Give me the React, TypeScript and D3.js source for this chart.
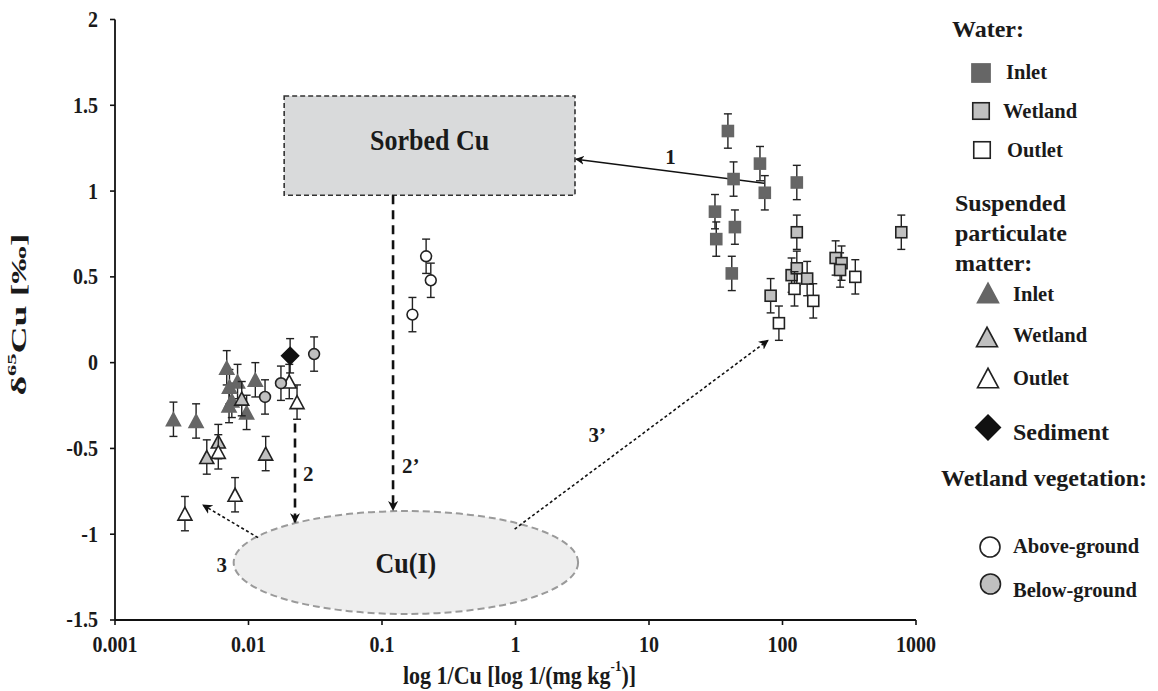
import React from "react";
import * as d3 from "d3";

// ---------- data ----------
const xTickValues = [0.001, 0.01, 0.1, 1, 10, 100, 1000];
const xTickLabels = ["0.001", "0.01", "0.1", "1", "10", "100", "1000"];
const yTickValues = [2, 1.5, 1, 0.5, 0, -0.5, -1, -1.5];
const yTickLabels = ["2", "1.5", "1", "0.5", "0", "-0.5", "-1", "-1.5"];

const waterInletX = [39, 43, 67.8, 73.7, 128, 31.2, 31.9, 44, 41.7];
const waterInletY = [1.35, 1.07, 1.16, 0.99, 1.05, 0.88, 0.72, 0.79, 0.52];

const waterWetlandX = [128, 81.5, 250, 277, 270, 117, 128, 153, 776];
const waterWetlandY = [0.76, 0.39, 0.61, 0.58, 0.54, 0.51, 0.55, 0.49, 0.76];

const waterOutletX = [123, 170, 94, 351];
const waterOutletY = [0.43, 0.36, 0.23, 0.5];

const spmInletX = [0.00274, 0.00405, 0.00687, 0.00828, 0.01125, 0.0072, 0.0075, 0.00715, 0.00968];
const spmInletY = [-0.33, -0.34, -0.03, -0.11, -0.1, -0.14, -0.22, -0.25, -0.29];

const spmWetlandX = [0.0089, 0.00594, 0.00487, 0.01345];
const spmWetlandY = [-0.21, -0.46, -0.55, -0.53];

const spmOutletX = [0.0202, 0.0231, 0.00594, 0.00793, 0.00334];
const spmOutletY = [-0.11, -0.23, -0.52, -0.77, -0.88];

const sedimentX = [0.0205];
const sedimentY = [0.04];

const aboveGroundX = [0.214, 0.232, 0.169];
const aboveGroundY = [0.62, 0.48, 0.28];

const belowGroundX = [0.031, 0.0175, 0.0133];
const belowGroundY = [0.05, -0.12, -0.2];

const ERR = 0.1;

// annotation geometry in data units
const sorbedBox = { x0: 0.0185, x1: 2.79, yTop: 1.554, yBottom: 0.976 };
const cuEllipse = { cx: 0.151, cy: -1.165, rxDecades: 1.29, ry: 0.3 };

// ---------- layout ----------
const W = 1158;
const H = 691;
const FONT = "'Liberation Serif', 'Times New Roman', serif";

const x = d3.scaleLog().domain([0.001, 1000]).range([115, 916]);
const y = d3.scaleLinear().domain([-1.5, 2]).range([620, 19.5]);

const INLET = "#666666";
const WETLAND = "#c0c0c0";
const EDGE = "#222222";

type Shape = "square" | "triangle" | "circle" | "diamond";

function Marker({ shape, cx, cy, fill, stroke, s = 1 }: { shape: Shape; cx: number; cy: number; fill: string; stroke: string; s?: number }) {
  const sw = 1.6;
  if (shape === "square") {
    const h = 5.5 * s;
    return <rect x={cx - h} y={cy - h} width={2 * h} height={2 * h} fill={fill} stroke={stroke} strokeWidth={sw} />;
  }
  if (shape === "triangle") {
    const hw = 7 * s;
    const hh = 6.5 * s;
    return <path d={`M${cx},${cy - hh}L${cx + hw},${cy + hh}L${cx - hw},${cy + hh}Z`} fill={fill} stroke={stroke} strokeWidth={sw} strokeLinejoin="miter" />;
  }
  if (shape === "circle") {
    return <circle cx={cx} cy={cy} r={5.4 * s} fill={fill} stroke={stroke} strokeWidth={sw} />;
  }
  const hw = 8.5 * s;
  return <path d={`M${cx},${cy - hw}L${cx + hw},${cy}L${cx},${cy + hw}L${cx - hw},${cy}Z`} fill={fill} stroke={stroke} strokeWidth={sw} />;
}

function Series({ xs, ys, shape, fill, stroke }: { xs: number[]; ys: number[]; shape: Shape; fill: string; stroke: string }) {
  return (
    <g>
      {xs.map((xv, i) => {
        const px = x(xv);
        const yTop = y(ys[i] + ERR);
        const yBot = y(ys[i] - ERR);
        return (
          <g key={"e" + i} stroke="#222" strokeWidth={1.4}>
            <line x1={px} x2={px} y1={yTop} y2={yBot} />
            <line x1={px - 4} x2={px + 4} y1={yTop} y2={yTop} />
            <line x1={px - 4} x2={px + 4} y1={yBot} y2={yBot} />
          </g>
        );
      })}
      {xs.map((xv, i) => (
        <Marker key={"m" + i} shape={shape} cx={x(xv)} cy={y(ys[i])} fill={fill} stroke={stroke} />
      ))}
    </g>
  );
}

const SY = 1.15;

export default function App() {
  const decade = x(10) - x(1);
  const ex = x(cuEllipse.cx);
  const ey = y(cuEllipse.cy);
  const erx = decade * cuEllipse.rxDecades;
  const ery = y(0) - y(cuEllipse.ry);

  const bx0 = x(sorbedBox.x0);
  const bx1 = x(sorbedBox.x1);
  const by0 = y(sorbedBox.yTop);
  const by1 = y(sorbedBox.yBottom);

  const txt = { fontFamily: FONT, fontWeight: 700, fill: "#1a1a1a" } as const;

  const legendItem = (label: string, tx: number, ty: number, size = 20.5) => (
    <text x={tx} y={ty} fontSize={size} {...txt}>{label}</text>
  );

  return (
    <svg width={W} height={H} style={{ position: "absolute", left: 0, top: 0, background: "#fff" }}>
      <defs>
        <marker id="arrSolid" viewBox="0 0 10 10" refX="9" refY="5" markerWidth="9" markerHeight="9" orient="auto-start-reverse" markerUnits="userSpaceOnUse">
          <path d="M0,0L10,5L0,10L3,5Z" fill="#111" />
        </marker>
        <marker id="arrDash" viewBox="0 0 10 10" refX="9" refY="5" markerWidth="10" markerHeight="10" orient="auto" markerUnits="userSpaceOnUse">
          <path d="M0,0L10,5L0,10L3,5Z" fill="#111" />
        </marker>
      </defs>

      {/* annotation shapes */}
      <rect x={bx0} y={by0} width={bx1 - bx0} height={by1 - by0} fill="#d9dadb" stroke="#333" strokeWidth={1.6} strokeDasharray="5 3" />
      <text transform={`translate(${(bx0 + bx1) / 2},${(by0 + by1) / 2 - 6}) scale(1,${SY})`} textAnchor="middle" dominantBaseline="central" fontSize={26} {...txt}>Sorbed Cu</text>

      <ellipse cx={ex} cy={ey} rx={erx} ry={ery} fill="#eeeeee" stroke="#9a9a9a" strokeWidth={2} strokeDasharray="7 4" />
      <text transform={`translate(${ex},${ey}) scale(1,${SY})`} textAnchor="middle" dominantBaseline="central" fontSize={26} {...txt}>Cu(I)</text>

      {/* arrow 1 */}
      <line x1={x(73)} y1={y(1.046)} x2={bx1 + 1} y2={y(1.186)} stroke="#111" strokeWidth={1.5} markerEnd="url(#arrSolid)" />
      <text x={x(14.5)} y={y(1.2)} textAnchor="middle" dominantBaseline="central" fontSize={21} {...txt}>1</text>

      {/* arrow 2' */}
      <line x1={x(0.121)} y1={by1} x2={x(0.121)} y2={ey - ery - 1} stroke="#111" strokeWidth={2.6} strokeDasharray="9 6" markerEnd="url(#arrDash)" />
      <text x={x(0.121) + 9} y={y(-0.6)} dominantBaseline="central" fontSize={21} {...txt}>2’</text>

      {/* arrow 2 */}
      <line x1={x(0.0223)} y1={y(-0.354)} x2={x(0.0223)} y2={y(-0.93)} stroke="#111" strokeWidth={2.6} strokeDasharray="9 6" markerEnd="url(#arrDash)" />
      <text x={x(0.0223) + 8} y={y(-0.65)} dominantBaseline="central" fontSize={21} {...txt}>2</text>

      {/* arrow 3 */}
      <line x1={x(0.0118)} y1={y(-1.02)} x2={x(0.00456)} y2={y(-0.83)} stroke="#111" strokeWidth={1.6} strokeDasharray="3 2.5" markerEnd="url(#arrDash)" />
      <text x={x(0.0063)} y={y(-1.18)} textAnchor="middle" dominantBaseline="central" fontSize={21} {...txt}>3</text>

      {/* arrow 3' */}
      <line x1={x(0.985)} y1={y(-0.97)} x2={x(77.8)} y2={y(0.13)} stroke="#111" strokeWidth={1.6} strokeDasharray="3 2.5" markerEnd="url(#arrDash)" />
      <text x={x(4.1)} y={y(-0.42)} textAnchor="middle" dominantBaseline="central" fontSize={21} {...txt}>3’</text>

      {/* data */}
      <Series xs={spmInletX} ys={spmInletY} shape="triangle" fill={INLET} stroke={INLET} />
      <Series xs={spmWetlandX} ys={spmWetlandY} shape="triangle" fill={WETLAND} stroke={EDGE} />
      <Series xs={spmOutletX} ys={spmOutletY} shape="triangle" fill="#fff" stroke={EDGE} />
      <Series xs={belowGroundX} ys={belowGroundY} shape="circle" fill={WETLAND} stroke={EDGE} />
      <Series xs={aboveGroundX} ys={aboveGroundY} shape="circle" fill="#fff" stroke={EDGE} />
      <Series xs={sedimentX} ys={sedimentY} shape="diamond" fill="#111" stroke="#111" />
      <Series xs={waterInletX} ys={waterInletY} shape="square" fill={INLET} stroke={INLET} />
      <Series xs={waterWetlandX} ys={waterWetlandY} shape="square" fill={WETLAND} stroke={EDGE} />
      <Series xs={waterOutletX} ys={waterOutletY} shape="square" fill="#fff" stroke={EDGE} />

      {/* axes */}
      <line x1={x(0.001)} x2={x(0.001)} y1={y(2)} y2={y(-1.5)} stroke="#111" strokeWidth={1.8} />
      <line x1={x(0.001)} x2={x(1000)} y1={y(-1.5)} y2={y(-1.5)} stroke="#111" strokeWidth={1.8} />
      {yTickValues.map((v, i) => (
        <g key={"yt" + i}>
          <line x1={x(0.001) - 5} x2={x(0.001)} y1={y(v)} y2={y(v)} stroke="#111" strokeWidth={1.6} />
          <text transform={`translate(${x(0.001) - 17},${y(v)}) scale(1,${SY})`} textAnchor="end" dominantBaseline="central" fontSize={20} {...txt}>{yTickLabels[i]}</text>
        </g>
      ))}
      {xTickValues.map((v, i) => (
        <g key={"xt" + i}>
          <line x1={x(v)} x2={x(v)} y1={y(-1.5)} y2={y(-1.5) + 5} stroke="#111" strokeWidth={1.6} />
          <text transform={`translate(${x(v)},${y(-1.5) + 25}) scale(1,${SY})`} textAnchor="middle" dominantBaseline="central" fontSize={20} {...txt}>{xTickLabels[i]}</text>
        </g>
      ))}
      <text transform={`translate(${(x(0.001) + x(1000)) / 2 + 4},675) scale(1,${SY})`} textAnchor="middle" dominantBaseline="central" fontSize={22} {...txt}>
        log 1/Cu [log 1/(mg kg<tspan dy={-8} fontSize={13}>-1</tspan><tspan dy={8}>)]</tspan>
      </text>
      <text transform={`translate(19,${y(0.28)}) rotate(-90)`} textAnchor="middle" dominantBaseline="central" fontSize={20} textLength={162} lengthAdjust="spacingAndGlyphs" {...txt}>
        δ<tspan dy={-7} fontSize={12}>65</tspan><tspan dy={7}>Cu [‰]</tspan>
      </text>

      {/* legend */}
      <text x={952} y={37} fontSize={24} {...txt}>Water:</text>
      <Marker shape="square" cx={981} cy={73} fill={INLET} stroke={INLET} s={1.65} />
      {legendItem("Inlet", 1006, 79)}
      <Marker shape="square" cx={981} cy={111} fill={WETLAND} stroke={EDGE} s={1.5} />
      {legendItem("Wetland", 1003, 118)}
      <Marker shape="square" cx={982} cy={150} fill="#fff" stroke={EDGE} s={1.5} />
      {legendItem("Outlet", 1007, 157)}

      <text x={955} y={211} fontSize={24} {...txt}>Suspended</text>
      <text x={955} y={241} fontSize={24} {...txt}>particulate</text>
      <text x={955} y={271} fontSize={24} {...txt}>matter:</text>
      <Marker shape="triangle" cx={988} cy={293} fill={INLET} stroke={INLET} s={1.5} />
      {legendItem("Inlet", 1013, 301)}
      <Marker shape="triangle" cx={987} cy={337} fill={WETLAND} stroke={EDGE} s={1.5} />
      {legendItem("Wetland", 1013, 342)}
      <Marker shape="triangle" cx={988} cy={378} fill="#fff" stroke={EDGE} s={1.5} />
      {legendItem("Outlet", 1013, 385)}
      <Marker shape="diamond" cx={988} cy={427.5} fill="#111" stroke="#111" s={1.45} />
      {legendItem("Sediment", 1013, 440, 24)}

      <text x={941} y={486} fontSize={24} {...txt}>Wetland vegetation:</text>
      <Marker shape="circle" cx={990} cy={547} fill="#fff" stroke={EDGE} s={1.85} />
      {legendItem("Above-ground", 1013, 553)}
      <Marker shape="circle" cx={990.5} cy={584} fill={WETLAND} stroke={EDGE} s={1.85} />
      {legendItem("Below-ground", 1013, 597)}
    </svg>
  );
}
